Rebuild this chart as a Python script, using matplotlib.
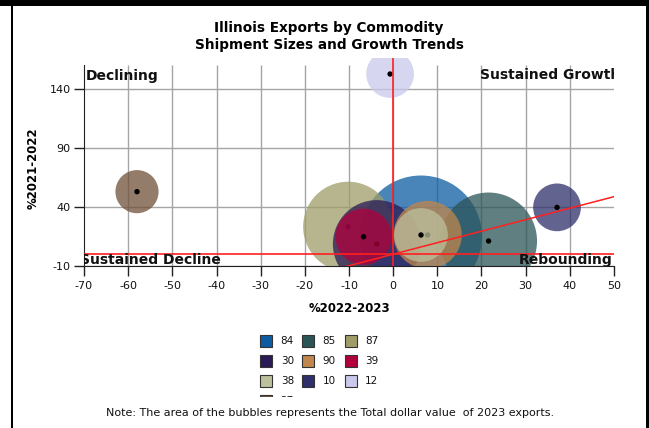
import matplotlib
matplotlib.use("Agg")
import matplotlib.pyplot as plt
from matplotlib.patches import Rectangle
import numpy as np

plt.rcParams['axes.unicode_minus'] = False

# ---------------- data ----------------
codes = ['84', '85', '87', '30', '90', '39', '38', '10', '12', '27']
growth_22_23 = [6.3, 21.6, -10.2, -3.7, 7.8, -6.7, 6.3, 37.1, -0.7, -58.0]
growth_21_22 = [15.0, 11.2, 23.3, 8.6, 16.3, 14.8, 16.3, 39.7, 152.7, 53.0]
export_value_2023 = [16.0, 10.1, 8.7, 8.3, 5.0, 3.4, 3.1, 2.45, 2.45, 2.0]
colors = ['#0d5ca3', '#2b5457', '#9e9d68', '#2a1a55', '#c0864c',
          '#b0003c', '#bcc09c', '#2f2f6b', '#c9c9ec', '#70503a']
trend_slope = 0.975
trend_intercept = 0.0
x_ticks = list(range(-70, 51, 10))
y_ticks = [-10, 40, 90, 140]

W, H = 649, 428
fig = plt.figure(figsize=(W / 100, H / 100), dpi=100)
fig.patch.set_facecolor('white')

def fx(px):
    return px / W

def fy(py):
    return 1 - py / H

# axes: x -70..50 at px 84..614 ; y -10 at 266, 140 at 89
ax_top_px = 58
ax = fig.add_axes([fx(84), fy(266), fx(614) - fx(84), fy(ax_top_px) - fy(266)])
ymax = 140 + (89 - ax_top_px) / 1.18
ax.set_xlim(-70, 50)
ax.set_ylim(-10, ymax)
ax.set_facecolor('white')

for s in ['top', 'right']:
    ax.spines[s].set_visible(False)
ax.spines['left'].set_bounds(-10, 160)
ax.spines['left'].set_color('#222222')
ax.spines['bottom'].set_color('#222222')

ax.set_xticks(x_ticks)
ax.set_yticks(y_ticks)
ax.tick_params(axis='both', length=7.5, width=1, color='#222222', labelsize=8, labelcolor='#111111')
ax.tick_params(axis='y', pad=2)
ax.tick_params(axis='x', pad=3)

# grid
ax.grid(axis='y', color='#a5a5a5', lw=1, zorder=0)
ax.vlines([t for t in x_ticks if -70 < t < 50], -10, 160, colors='#a5a5a5', lw=1, zorder=0)

# reference lines
ax.axvline(0, color='#ff2020', lw=1.2, zorder=30)
ax.axhline(0, color='#ff2020', lw=1.2, zorder=30)
tx = np.array([-70, 50])
ax.plot(tx, trend_slope * tx + trend_intercept, color='#ff2020', lw=1.1, zorder=30)

# bubbles
max_diam_pt = 122 * 0.72
vmax = max(export_value_2023)
z = 5
for xi, yi, v, c in zip(growth_22_23, growth_21_22, export_value_2023, colors):
    s = (v / vmax) * max_diam_pt ** 2
    ax.scatter([xi], [yi], s=s, color=c, alpha=0.75, edgecolors='none', zorder=z)
    ax.scatter([xi], [yi], s=15, color='black', edgecolors='none', zorder=z + 0.5)
    z += 1

# quadrant labels
qkw = dict(fontsize=10, fontweight='bold', color='#111111', zorder=40, clip_on=True)
ax.text(-69.5, 147.6, 'Declining', ha='left', va='baseline', **qkw)
ax.text(51.4, 148.2, 'Sustained Growth', ha='right', va='baseline', **qkw)
ax.text(-70.9, -8.3, 'Sustained Decline', ha='left', va='baseline', **qkw)
ax.text(49.7, -8.3, 'Rebounding', ha='right', va='baseline', **qkw)

# axis labels & title
fig.text(fx(349), fy(309), '%2022-2023', ha='center', va='center', fontsize=8.5, fontweight='bold')
fig.text(fx(33), fy(168), '%2021-2022', ha='center', va='center', rotation=90, fontsize=8.5, fontweight='bold')
fig.text(fx(329), fy(28), 'Illinois Exports by Commodity', ha='center', va='center', fontsize=9.8, fontweight='bold')
fig.text(fx(329), fy(45), 'Shipment Sizes and Growth Trends', ha='center', va='center', fontsize=9.8, fontweight='bold')

# legend (clipped box)
lax = fig.add_axes([fx(250), fy(397), fx(400) - fx(250), fy(330) - fy(397)])
lax.set_xlim(250, 400)
lax.set_ylim(397, 330)
lax.axis('off')
sq_cx = [265.5, 308, 351]
lab_x = [280.7, 322.7, 365]
row_y = [341, 361, 381, 401]
for i, (code, c) in enumerate(zip(codes, colors)):
    r, col = divmod(i, 3)
    cy = row_y[r]
    lax.add_patch(Rectangle((sq_cx[col] - 6, cy - 6), 12, 12, facecolor=c,
                            edgecolor='#333333', lw=0.8, clip_on=True))
    lax.text(lab_x[col], cy, code, ha='left', va='center', fontsize=7.5,
             color='#111111', clip_on=True)

# note
fig.text(fx(330), fy(413), 'Note: The area of the bubbles represents the Total dollar value  of 2023 exports.',
         ha='center', va='center', fontsize=8, color='#111111')

# frame
fig.add_artist(Rectangle((0, fy(6)), 1, fy(0) - fy(6), transform=fig.transFigure,
                         facecolor='black', edgecolor='none'))
fig.add_artist(Rectangle((fx(10.5), 0), fx(2.5), fy(6), transform=fig.transFigure,
                         facecolor='black', edgecolor='none'))
fig.add_artist(Rectangle((fx(646), 0), fx(3), fy(6), transform=fig.transFigure,
                         facecolor='black', edgecolor='none'))

fig.savefig('out.png', dpi=100)
